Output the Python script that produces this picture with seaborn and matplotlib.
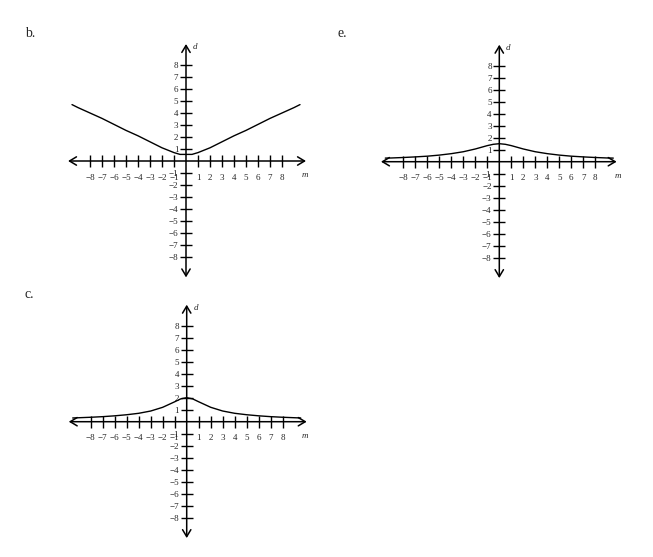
import matplotlib
matplotlib.use("Agg")
import matplotlib.pyplot as plt
import seaborn as sns
import pandas as pd

sns.set_style("white")
plt.rcParams['font.family'] = ['Liberation Serif', 'DejaVu Serif']

# ---- data ----
m_vals = [-9.5, -9, -8, -7, -6, -5, -4, -3, -2, -1, -0.5, 0, 0.5, 1, 2, 3, 4, 5, 6, 7, 8, 9, 9.5]
d_b = [4.7, 4.45, 4.0, 3.55, 3.05, 2.55, 2.1, 1.6, 1.1, 0.7, 0.55, 0.55, 0.55, 0.7, 1.1, 1.6, 2.1, 2.55, 3.05, 3.55, 4.0, 4.45, 4.7]
d_e = [0.3, 0.31, 0.35, 0.4, 0.46, 0.55, 0.67, 0.83, 1.06, 1.34, 1.45, 1.5, 1.45, 1.34, 1.06, 0.83, 0.67, 0.55, 0.46, 0.4, 0.35, 0.31, 0.3]
d_c = [0.31, 0.33, 0.37, 0.42, 0.49, 0.58, 0.7, 0.89, 1.2, 1.66, 1.9, 2.0, 1.9, 1.66, 1.2, 0.89, 0.7, 0.58, 0.49, 0.42, 0.37, 0.33, 0.31]
tick_vals = [-8, -7, -6, -5, -4, -3, -2, -1, 1, 2, 3, 4, 5, 6, 7, 8]
panel_labels = ["b.", "e.", "c."]

W, H = 653, 557
fig = plt.figure(figsize=(W / 100, H / 100), dpi=100)

PX = 12.0  # pixels per unit
panels = [
    (186.0, 161.0, -9.83, 10.0, 9.75, -9.7, d_b, panel_labels[0], (25, 37)),
    (499.3, 161.7, -9.86, 9.78, 9.75, -9.7, d_e, panel_labels[1], (337, 37)),
    (186.7, 421.7, -9.83, 10.0, 9.75, -9.7, d_c, panel_labels[2], (25, 298)),
]

for ox, oy, xl, xr, yt, yb, dvals, lab, lpos in panels:
    half = 10.5 * PX
    left = (ox - half) / W
    bottom = (H - (oy + half)) / H
    ax = fig.add_axes([left, bottom, 2 * half / W, 2 * half / H])
    ax.set_xlim(-10.5, 10.5)
    ax.set_ylim(-10.5, 10.5)
    ax.patch.set_alpha(0)
    for s in ['top', 'right']:
        ax.spines[s].set_visible(False)
    ax.spines['left'].set_position('zero')
    ax.spines['bottom'].set_position('zero')
    ax.spines['left'].set_color('none')
    ax.spines['bottom'].set_color('none')

    ax.set_xticks(tick_vals)
    ax.set_yticks(tick_vals)
    ax.set_xticklabels([f"{t}".replace('-', '\u2212') for t in tick_vals])
    ax.set_yticklabels([f"{t}".replace('-', '\u2212') for t in tick_vals])
    ax.tick_params(axis='x', direction='inout', length=8, width=1.0, pad=5,
                   labelsize=6.5, color='black', bottom=True)
    ax.tick_params(axis='y', direction='inout', length=8, width=1.0, pad=1.5,
                   labelsize=6.5, color='black', left=True)

    ax.annotate('', xy=(xr, 0), xytext=(xl, 0),
                arrowprops=dict(arrowstyle='<->,head_length=0.5,head_width=0.3',
                                lw=1.1, color='black', shrinkA=0, shrinkB=0))
    ax.annotate('', xy=(0, yt), xytext=(0, yb),
                arrowprops=dict(arrowstyle='<->,head_length=0.5,head_width=0.3',
                                lw=1.1, color='black', shrinkA=0, shrinkB=0))

    df = pd.DataFrame({'m': m_vals, 'd': dvals})
    sns.lineplot(data=df, x='m', y='d', ax=ax, color='black', lw=1.0,
                 sort=False, estimator=None)
    ax.set_xlabel('')
    ax.set_ylabel('')

    ax.text(9.6, -1.2, 'm', fontsize=6.5, style='italic', ha='left', va='center')
    ax.text(0.55, 9.5, 'd', fontsize=6.5, style='italic', ha='left', va='center')

    fig.text(lpos[0] / W, 1 - lpos[1] / H, lab, fontsize=10, ha='left', va='baseline')

fig.savefig('out.png', dpi=100)
